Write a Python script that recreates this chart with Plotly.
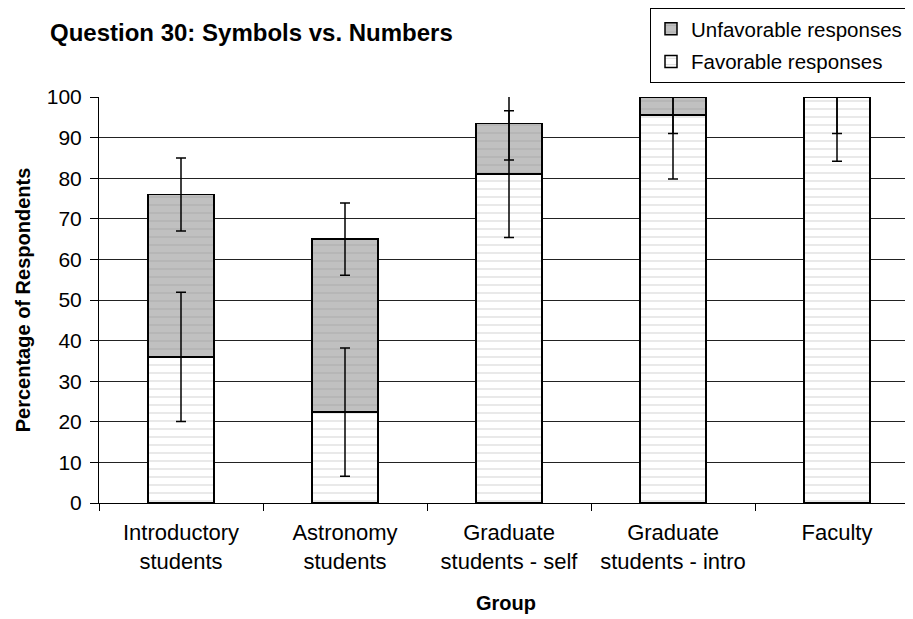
import plotly.graph_objects as go

categories = ["Introductory<br>students", "Astronomy<br>students", "Graduate<br>students - self",
              "Graduate<br>students - intro", "Faculty"]
favorable = [36.0, 22.4, 81.0, 95.6, 100.0]
unfavorable = [40.0, 42.6, 12.5, 4.4, 0.0]
fav_err = [15.9, 15.8, 15.6, 15.8, 15.8]
unfav_err = [9.0, 8.9, 9.0, 9.0, 9.0]
y_ticks = [0, 10, 20, 30, 40, 50, 60, 70, 80, 90, 100]

FONT = "Liberation Sans, Arial, sans-serif"

# page body has an 8px margin: the figure starts at (8, 8) in the window
OFF = 8
W, H = 913 - OFF, 619 - OFF

stack_top = [f + u for f, u in zip(favorable, unfavorable)]

fig = go.Figure()
fig.add_trace(go.Bar(
    x=categories, y=favorable, name="Favorable responses", legendgroup="b", legendrank=2,
    width=0.4,
    marker=dict(color="white", line=dict(color="black", width=1.5),
                pattern=dict(shape="-", fgcolor="#b4b4b4", bgcolor="white", size=8, solidity=0.15)),
))
fig.add_trace(go.Bar(
    x=categories, y=unfavorable, name="Unfavorable responses", legendgroup="a", legendrank=1,
    width=0.4,
    marker=dict(color="#c0c0c0", line=dict(color="black", width=1.5),
                pattern=dict(shape="-", fgcolor="#9c9c9c", bgcolor="#c0c0c0", size=8, solidity=0.15)),
))
fig.add_trace(go.Scatter(
    x=categories, y=favorable, mode="markers", showlegend=False, hoverinfo="skip",
    marker=dict(size=1, color="rgba(0,0,0,0)"),
    error_y=dict(type="data", array=fav_err, color="black", thickness=1.5, width=5),
))
fig.add_trace(go.Scatter(
    x=categories, y=stack_top, mode="markers", showlegend=False, hoverinfo="skip",
    marker=dict(size=1, color="rgba(0,0,0,0)"),
    error_y=dict(type="data", array=unfav_err, color="black", thickness=1.5, width=5),
))

fig.update_layout(
    width=W, height=H,
    barmode="stack",
    paper_bgcolor="white", plot_bgcolor="white",
    font=dict(family=FONT, size=21, color="black"),
    margin=dict(l=99 - OFF, r=0, t=97 - OFF, b=619 - 503, autoexpand=False),
    title=dict(text="<b>Question 30: Symbols vs. Numbers</b>", x=(50 - OFF) / W, xanchor="left",
               y=1 - (33 - OFF) / H, yanchor="middle", font=dict(size=24, family=FONT)),
    legend=dict(xref="container", yref="container", x=(650 - OFF) / W, xanchor="left",
                y=1.0, yanchor="top",
                bordercolor="black", borderwidth=1, bgcolor="white",
                traceorder="grouped", tracegroupgap=3,
                font=dict(size=20.5, family=FONT), itemwidth=30),
    showlegend=True,
)
fig.update_xaxes(
    range=[-0.5, 4.5 - 6/164], showline=True, linecolor="black", linewidth=1,
    ticks="outside", tickson="boundaries", ticklen=7, tickcolor="black",
    tickfont=dict(size=22), showgrid=False, automargin=False, ticklabelstandoff=10,
    title=dict(text="<b>Group</b>", font=dict(size=20), standoff=22),
)
fig.update_yaxes(
    range=[0, 100], tickvals=y_ticks, showline=True, linecolor="black", linewidth=1,
    ticks="outside", ticklen=8, tickcolor="black", tickfont=dict(size=21), ticklabelstandoff=4,
    showgrid=True, gridcolor="#222", gridwidth=1, zeroline=False, automargin=False,
    title=dict(text="<b>Percentage of Respondents</b>", font=dict(size=20), standoff=10),
)

fig.write_html("out.html")
